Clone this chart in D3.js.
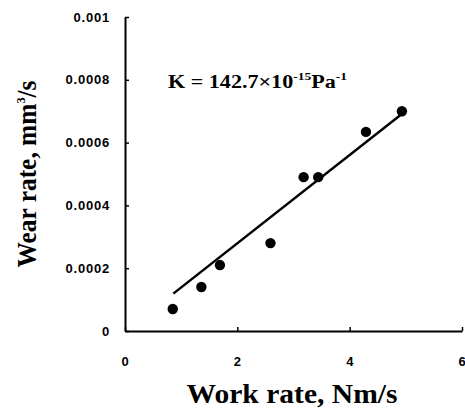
<!DOCTYPE html>
<html>
<head>
<meta charset="utf-8">
<script src="https://cdn.jsdelivr.net/npm/d3@7"></script>
<style>
  body { margin: 0; background: #fff; }
  text { fill: #000; }
</style>
</head>
<body>
<div id="chart-area"></div>
<script>
// measured points
const workRate = [0.85, 1.36, 1.69, 2.59, 3.18, 3.44, 4.29, 4.93]
const wearRate = [0.00007, 0.00014, 0.00021, 0.00028, 0.00049, 0.00049, 0.000634, 0.0007]

// fitted line endpoints
const fitX = [0.86, 4.9]
const fitY = [0.000119, 0.000687]

const xTicks = [0, 2, 4, 6]
const yTicks = [0, 0.0002, 0.0004, 0.0006, 0.0008, 0.001]
const yTickLabels = ["0", "0.0002", "0.0004", "0.0006", "0.0008", "0.001"]

const MARGIN = { LEFT: 125, RIGHT: 2, TOP: 17, BOTTOM: 81 }
const WIDTH = 465 - MARGIN.LEFT - MARGIN.RIGHT
const HEIGHT = 412 - MARGIN.TOP - MARGIN.BOTTOM

const SERIF = "'Liberation Serif', 'Times New Roman', serif"

const svg = d3.select("#chart-area").append("svg")
	.attr("width", 465)
	.attr("height", 412)

const g = svg.append("g")
	.attr("transform", `translate(${MARGIN.LEFT}, ${MARGIN.TOP})`)

const x = d3.scaleLinear().domain([0, 6]).range([0, WIDTH - 1])
const y = d3.scaleLinear().domain([0, 0.001]).range([HEIGHT, 0])

// axes with inward ticks
const xAxisCall = d3.axisBottom(x)
	.tickValues(xTicks)
	.tickSizeInner(-4)
	.tickSizeOuter(0)
	.tickPadding(26)
	.tickFormat(d3.format("d"))

const yAxisCall = d3.axisLeft(y)
	.tickValues(yTicks)
	.tickSizeInner(-4)
	.tickSizeOuter(0)
	.tickPadding(15)
	.tickFormat((d, i) => yTickLabels[i])

const xAxis = g.append("g")
	.attr("transform", `translate(0, ${HEIGHT})`)
	.call(xAxisCall)

const yAxis = g.append("g")
	.call(yAxisCall)

g.selectAll(".domain").attr("stroke", "#000").attr("stroke-width", 2)
g.selectAll(".tick line").attr("stroke", "#000").attr("stroke-width", 1.5)
g.selectAll(".tick text")
	.attr("font-family", "Arial, 'Liberation Sans', sans-serif")
	.attr("font-weight", "bold")
	.attr("font-size", "13px")
	.attr("letter-spacing", "0.8px")
	.attr("fill", "#000")

// fit line
const line = d3.line()
	.x(d => x(d[0]))
	.y(d => y(d[1]))

g.append("path")
	.datum(d3.zip(fitX, fitY))
	.attr("d", line)
	.attr("fill", "none")
	.attr("stroke", "#000")
	.attr("stroke-width", 2.5)

// points
g.selectAll("circle")
	.data(d3.zip(workRate, wearRate))
	.enter().append("circle")
	.attr("cx", d => x(d[0]))
	.attr("cy", d => y(d[1]))
	.attr("r", 5.2)
	.attr("fill", "#000")

// annotation
const ann = svg.append("text")
	.attr("x", 168)
	.attr("y", 88)
	.attr("font-family", SERIF)
	.attr("font-weight", "bold")
	.attr("font-size", "18px")
	.attr("textLength", 179)
	.attr("lengthAdjust", "spacingAndGlyphs")
ann.append("tspan").text("K = 142.7×10")
ann.append("tspan").attr("dy", -8).attr("font-size", "11px").text("-15")
ann.append("tspan").attr("dy", 8).text("Pa")
ann.append("tspan").attr("dy", -8).attr("font-size", "11px").text("-1")

// X label
svg.append("text")
	.attr("x", 292)
	.attr("y", 403)
	.attr("font-family", SERIF)
	.attr("font-weight", "bold")
	.attr("font-size", "27px")
	.attr("text-anchor", "middle")
	.attr("textLength", 211)
	.attr("lengthAdjust", "spacingAndGlyphs")
	.text("Work rate, Nm/s")

// Y label
const yLabel = svg.append("text")
	.attr("transform", "translate(36, 174) rotate(-90)")
	.attr("font-family", SERIF)
	.attr("font-weight", "bold")
	.attr("font-size", "27px")
	.attr("text-anchor", "middle")
	.attr("textLength", 187)
	.attr("lengthAdjust", "spacingAndGlyphs")
yLabel.append("tspan").text("Wear rate,  mm")
yLabel.append("tspan").attr("dy", -11).attr("font-size", "13px").text("3")
yLabel.append("tspan").attr("dy", 11).text("/s")
</script>
</body>
</html>
